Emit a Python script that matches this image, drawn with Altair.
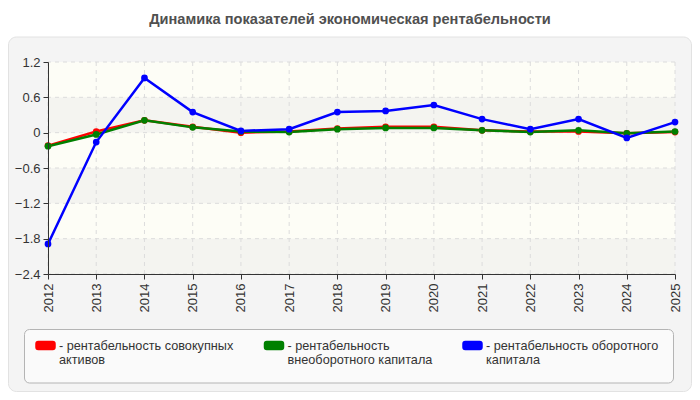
import altair as alt
import pandas as pd

# ---------------------------------------------------------------------------
# data
years = list(range(2012, 2026))
assets = [-0.22, 0.02, 0.21, 0.10, 0.00, 0.02, 0.07, 0.10, 0.10, 0.04, 0.02, 0.02, -0.01, 0.01]
noncurrent = [-0.23, -0.03, 0.21, 0.09, 0.02, 0.01, 0.06, 0.08, 0.08, 0.04, 0.01, 0.04, -0.01, 0.02]
working = [-1.89, -0.16, 0.93, 0.35, 0.03, 0.06, 0.35, 0.37, 0.47, 0.23, 0.06, 0.23, -0.09, 0.18]

# "|" splits a legend label into two lines
series_names = [
    "- рентабельность совокупных|активов",
    "- рентабельность|внеоборотного капитала",
    "- рентабельность оборотного|капитала",
]
y_ticks = [-2.4, -1.8, -1.2, -0.6, 0, 0.6, 1.2]
band_top = [0.6, -0.6, -1.8]
band_bottom = [0, -1.2, -2.4]

TITLE = ["Динамика показателей экономическая рентабельности"]
FONT = "Liberation Sans"
GRID = "#dcdcdc"
###############################################################################
rows = []
for name, vals in zip(series_names, [assets, noncurrent, working]):
    for yr, v in zip(years, vals):
        rows.append({"year": yr, "value": v, "series": name})
df = pd.DataFrame(rows)

yscale = alt.Scale(domain=[-2.4, 1.2], nice=False, zero=False)
xscale = alt.Scale(domain=[2012, 2025], nice=False, zero=False)

xaxis = alt.Axis(title=None, values=years, format="d", labelAngle=270, labelAlign="right",
                 labelBaseline="middle", labelFontSize=13, labelColor="#333", labelPadding=4,
                 tickSize=5, tickColor="#333", domainColor="#333", grid=False, zindex=1)
yaxis = alt.Axis(title=None, values=y_ticks, format="~g", labelFontSize=13, labelColor="#333",
                 labelPadding=3, tickSize=5, tickColor="#333", domainColor="#333",
                 grid=False, zindex=1)

SWATCH = ("M-0.8,-0.39 L0.8,-0.39 Q1,-0.39 1,-0.19 L1,0.19 Q1,0.39 0.8,0.39 "
          "L-0.8,0.39 Q-1,0.39 -1,0.19 L-1,-0.19 Q-1,-0.39 -0.8,-0.39 Z")

legend = alt.Legend(
    title=None, orient="none", legendX=-24, legendY=267, direction="horizontal", columns=3,
    columnPadding=24.5, symbolType=SWATCH, symbolSize=324, symbolStrokeWidth=1,
    symbolOpacity=1, symbolOffset=5, labelExpr="split(datum.label, '|')", labelFont=FONT,
    labelFontSize=12.7, labelColor="#333", labelOffset=3, labelLimit=400,
    labelBaseline="middle", padding=6,
)
color = alt.Color("series:N", sort=series_names, legend=legend,
                  scale=alt.Scale(domain=series_names, range=["#ff0000", "#008000", "#0000ff"]))

# outer gray panel and the legend frame
panel = alt.Chart(pd.DataFrame({"k": [0]})).mark_rect(
    fill="#f4f4f4", stroke="#e2e2e2", strokeWidth=1, cornerRadius=8
).encode(x=alt.value(-39.5), x2=alt.value(643.5), y=alt.value(-25), y2=alt.value(329.5))

legend_box = alt.Chart(pd.DataFrame({"k": [0]})).mark_rect(
    fill="#fafafa", stroke="#b4b4b4", strokeWidth=1, cornerRadius=5
).encode(x=alt.value(-23.5), x2=alt.value(625.5), y=alt.value(267.5), y2=alt.value(321))

title = alt.Chart(pd.DataFrame({"t": TITLE})).mark_text(
    font=FONT, fontSize=14.6, fontWeight="bold", color="#505050", align="center",
    baseline="middle"
).encode(text="t:N", x=alt.value(302), y=alt.value(-42))

# plot background with alternating bands
plot_bg = alt.Chart(pd.DataFrame({"top": [1.2], "bottom": [-2.4]})).mark_rect(
    fill="#fdfdf6"
).encode(x=alt.value(0), x2=alt.value(627),
         y=alt.Y("top:Q", scale=yscale, axis=yaxis), y2="bottom:Q")

bands = alt.Chart(pd.DataFrame({"top": band_top, "bottom": band_bottom})).mark_rect(
    fill="#f4f4f0"
).encode(x=alt.value(0), x2=alt.value(627),
         y=alt.Y("top:Q", scale=yscale, axis=yaxis), y2="bottom:Q")

ygrid = alt.Chart(pd.DataFrame({"v": y_ticks})).mark_rule(
    color=GRID, strokeDash=[4, 4], strokeWidth=1
).encode(y=alt.Y("v:Q", scale=yscale, axis=yaxis))

xgrid = alt.Chart(pd.DataFrame({"yr": years})).mark_rule(
    color=GRID, strokeDash=[4, 4], strokeWidth=1
).encode(x=alt.X("yr:Q", scale=xscale, axis=xaxis))

base = alt.Chart(df).encode(
    x=alt.X("year:Q", scale=xscale, axis=xaxis),
    y=alt.Y("value:Q", scale=yscale, axis=yaxis),
    color=color,
)

lines = base.mark_line().encode(
    strokeWidth=alt.StrokeWidth("series:N", legend=None,
                                scale=alt.Scale(domain=series_names, range=[2.5, 2.5, 1.5])),
    detail="series:N",
)
points = base.mark_point(filled=True, size=45, opacity=1)

chart = alt.layer(panel, legend_box, title, plot_bg, bands, ygrid, xgrid, lines, points).properties(
    width=627,
    height=212,
    autosize=alt.AutoSizeParams(type="none"),
    padding={"left": 40, "top": 54, "right": 17, "bottom": 118},
).configure(font=FONT).configure_view(stroke=None).configure_axis(labelFont=FONT)

chart.save("out.html", embed_options={"renderer": "svg", "actions": False})
